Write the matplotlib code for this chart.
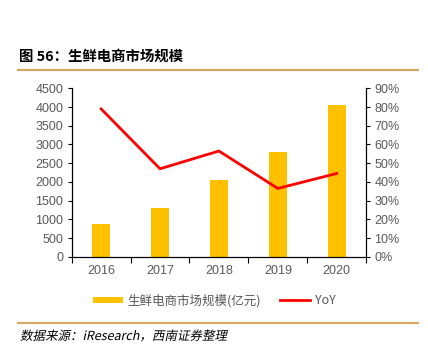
import matplotlib
matplotlib.use("Agg")
import matplotlib.pyplot as plt
import numpy as np
from matplotlib.lines import Line2D
from matplotlib.patches import Patch, PathPatch
from matplotlib.textpath import TextPath
from matplotlib.font_manager import FontProperties
from matplotlib.transforms import Affine2D
from matplotlib.ticker import FixedLocator, PercentFormatter

plt.rcParams["font.family"] = ["Liberation Sans", "Noto Sans CJK SC", "DejaVu Sans"]

# 数据
years = ["2016", "2017", "2018", "2019", "2020"]
market_size = [880, 1300, 2050, 2800, 4050]      # 亿元
yoy = [0.79, 0.47, 0.565, 0.365, 0.445]

BAR_COLOR = "#FFC000"
LINE_COLOR = "#FF0000"
GREY = "#595959"
RULE_COLOR = "#D9A65F"
CJK = ["Noto Sans CJK SC", "DejaVu Sans"]

W, H = 428, 352
fig = plt.figure(figsize=(W / 100, H / 100), dpi=100)
ax = fig.add_axes([0.1675, 0.2707, 0.688, 0.4783])
ax2 = ax.twinx()

x = np.arange(len(years))
ax.bar(x, market_size, width=0.31, color=BAR_COLOR, zorder=2)
ax2.plot(x, yoy, color=LINE_COLOR, linewidth=2, zorder=3)

# 坐标轴
ax.set_xlim(-0.5, len(years) - 0.5)
ax.set_ylim(0, 4500)
ax.set_yticks(np.arange(0, 4501, 500))
ax2.set_ylim(0, 0.9)
ax2.set_yticks(np.arange(0, 0.91, 0.1))
ax2.yaxis.set_major_formatter(PercentFormatter(1.0, decimals=0))

ax.set_xticks(x)
ax.set_xticklabels(years)
ax.tick_params(axis="x", which="major", length=0, pad=6)
ax.xaxis.set_minor_locator(FixedLocator(np.arange(-0.5, len(years), 1)))
ax.tick_params(axis="x", which="minor", length=4, width=0.8, direction="out", color="black")

ax.tick_params(axis="y", length=3, width=0.8, direction="out", pad=3)
ax2.tick_params(axis="y", length=3, width=0.8, direction="out", pad=3)
for a in (ax, ax2):
    a.tick_params(labelsize=9, labelcolor=GREY)
    a.spines["top"].set_visible(False)
    for s in ("left", "right", "bottom"):
        a.spines[s].set_linewidth(0.8)

# 图例
handles = [
    Patch(facecolor=BAR_COLOR, edgecolor="none"),
    Line2D([0], [0], color=LINE_COLOR, linewidth=2),
]
leg = fig.legend(handles, ["生鲜电商市场规模(亿元)", "YoY"],
                 loc="center", bbox_to_anchor=(0.5, 0.146), ncol=2, frameon=False,
                 prop={"family": CJK, "size": 9}, handlelength=2.45, handleheight=0.45,
                 columnspacing=1.5, handletextpad=0.35)
for t in leg.get_texts():
    t.set_color(GREY)

# 标题与来源
fig.text(0.045, 0.838, "图 56：生鲜电商市场规模", fontsize=10.4, fontweight="bold",
         family=CJK, va="center", ha="left")
fig.add_artist(Line2D([0.042, 0.977], [0.801, 0.801], color=RULE_COLOR, linewidth=1.5))
fig.add_artist(Line2D([0.042, 0.977], [0.083, 0.083], color=RULE_COLOR, linewidth=1.5))

# 来源文字（斜体，CJK 字体无斜体，用错切变换模拟）
src_size = 9 * 100 / 72
tp = TextPath((0, 0), "数据来源：iResearch，西南证券整理", size=src_size,
              prop=FontProperties(family=CJK))
tr = Affine2D().skew_deg(12, 0).translate(20, H - 340)
fig.add_artist(PathPatch(tr.transform_path(tp), facecolor="black", edgecolor="none",
                         transform=None))

fig.savefig("out.png", dpi=100)
